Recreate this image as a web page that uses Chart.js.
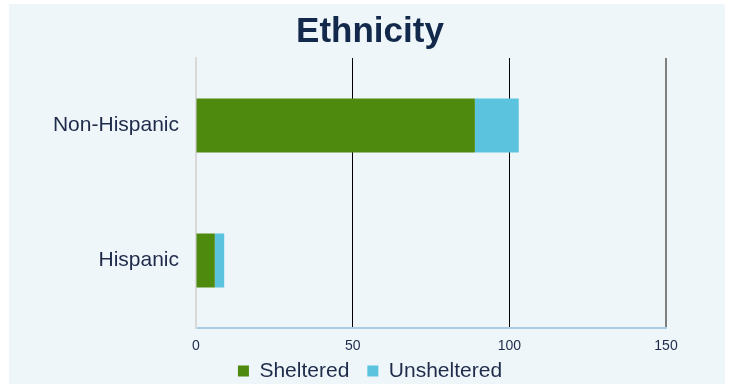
<!DOCTYPE html>
<html>
<head>
<meta charset="utf-8">
<script src="https://cdn.jsdelivr.net/npm/chart.js@4"></script>
<style>
  body { margin: 0; background: #ffffff; }
  #wrap { position: absolute; left: 9px; top: 4px; width: 716px; height: 380px; background: #EEF6F9; }
</style>
</head>
<body>
<div id="wrap"><canvas id="ethChart" width="716" height="380"></canvas></div>
<script>
const categories = ["Non-Hispanic", "Hispanic"];
const sheltered = [89, 6];
const unsheltered = [14, 3];
const xTicks = [0, 50, 100, 150];

const FONT = "'Liberation Sans', Arial, sans-serif";
const TEXT = "#1E2B4A";

// --- GRID COLORS ---
const gridColor = (ctx) => {
  const v = ctx.tick ? ctx.tick.value : null;
  if (v === 0) return "rgba(0,0,0,0)";
  if (v === 150) return "#7f7f7f";
  return "#000000";
};
const gridWidth = (ctx) => (ctx.tick && ctx.tick.value === 150 ? 2 : 1);

// legend: small box in the layout, then stretched up so the text sits at the reference height
const legendPlace = {
  id: "legendPlace",
  beforeLayout(chart) {
    const lg = chart.legend;
    if (!lg || lg._fixedFit) return;
    const fit = lg.fit;
    lg.fit = function () { fit.call(this); this.height = 27; };
    lg._fixedFit = true;
  },
  afterLayout(chart) {
    const lg = chart.legend;
    if (!lg) return;
    lg.top = 338.5;
    lg.bottom = chart.height;
    lg.height = lg.bottom - lg.top;
  }
};

new Chart(document.getElementById("ethChart").getContext("2d"), {
  type: "bar",
  data: {
    labels: categories,
    datasets: [
      { label: "Sheltered", data: sheltered, backgroundColor: "#4E8A0E", borderWidth: 0 },
      { label: "Unsheltered", data: unsheltered, backgroundColor: "#5BC3DE", borderWidth: 0 }
    ]
  },
  plugins: [legendPlace],
  options: {
    indexAxis: "y",
    responsive: false,
    animation: false,
    layout: { padding: { left: 6, right: 0, top: 0, bottom: 0 } },
    plugins: {
      title: {
        display: true,
        text: "Ethnicity",
        color: "#13294B",
        font: { family: FONT, size: 35, weight: "bold" },
        padding: { top: 7, bottom: 5 }
      },
      legend: {
        position: "bottom",
        labels: {
          color: TEXT,
          font: { family: FONT, size: 21 },
          boxWidth: 11,
          boxHeight: 11,
          padding: 18
        }
      },
      tooltip: { enabled: false }
    },
    scales: {
      x: {
        stacked: true,
        min: 0,
        max: 150,
        afterBuildTicks: (scale) => { scale.ticks = xTicks.map(v => ({ value: v })); },
        afterFit: (scale) => { scale.height = 29; },
        ticks: { color: TEXT, font: { family: FONT, size: 14 }, padding: 10 },
        grid: { color: gridColor, lineWidth: gridWidth, drawTicks: false },
        border: { color: "#A9CCE3", width: 2 }
      },
      y: {
        stacked: true,
        afterFit: (scale) => { scale.width = 181; },
        ticks: { color: TEXT, font: { family: FONT, size: 21 }, padding: 17 },
        grid: { display: false, drawTicks: false },
        border: { color: "#d9d9d9", width: 2 }
      },
      // empty right margin so the plot ends where the reference does
      yRight: {
        type: "category",
        position: "right",
        labels: categories,
        afterFit: (scale) => { scale.width = 59; },
        ticks: { display: false },
        grid: { display: false, drawTicks: false },
        border: { display: false }
      }
    },
    datasets: { bar: { categoryPercentage: 1, barPercentage: 0.4 } }
  }
});
</script>
</body>
</html>
